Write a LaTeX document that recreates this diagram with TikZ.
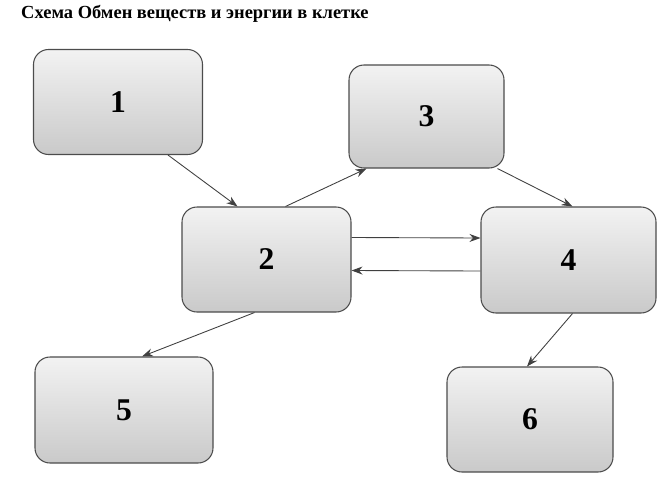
\documentclass[tikz,border=0pt]{standalone}
\usepackage{fontspec}
\setmainfont{Liberation Serif}
\usetikzlibrary{arrows.meta,calc}

\begin{document}
\begin{tikzpicture}[blk/.style={draw=black!70, line width=0.6pt, rounded corners=0.3cm, top color=gray!10, bottom color=gray!42, font=\fontsize{18}{20}\selectfont\bfseries}, link/.style={->, >={Stealth[length=2.2mm,width=1.6mm]}, draw=black!75, line width=0.5pt}]
\useasboundingbox (0,0) rectangle (13.32,-9.9);
\node (title) [anchor=west, font=\fontsize{10.5}{12}\selectfont\bfseries] at (0.3,-0.27) {Схема Обмен веществ и энергии в клетке};
\node (b1) [blk, minimum width=3.38cm, minimum height=2.1cm] at (2.36,-2.04) {1};
\node (b3) [blk, minimum width=3.1cm, minimum height=2.06cm] at (8.53,-2.33) {3};
\node (b2) [blk, minimum width=3.38cm, minimum height=2.1cm] at (5.33,-5.19) {2};
\node (b4) [blk, minimum width=3.5cm, minimum height=2.12cm] at (11.37,-5.2) {4};
\node (b5) [blk, minimum width=3.56cm, minimum height=2.12cm] at (2.48,-8.2) {5};
\node (b6) [blk, minimum width=3.32cm, minimum height=2.1cm] at (10.6,-8.39) {6};
% arrows between boxes
\draw[link] ([xshift=1cm]b1.south) -- ([xshift=-0.58cm]b2.north);
\draw[link] ([xshift=0.38cm]b2.north) -- ([xshift=-1.2cm]b3.south);
\draw[link] ([xshift=1.42cm]b3.south) -- ([xshift=0.08cm]b4.north);
\draw[link] ([yshift=0.44cm]b2.east) -- ([yshift=0.44cm]b4.west);
\draw[link] ([yshift=-0.22cm]b4.west) -- ([yshift=-0.22cm]b2.east);
\draw[link] ([xshift=-0.24cm]b2.south) -- ([xshift=0.36cm]b5.north);
\draw[link] ([xshift=0.08cm]b4.south) -- ([xshift=-0.06cm]b6.north);
\end{tikzpicture}
\end{document}
